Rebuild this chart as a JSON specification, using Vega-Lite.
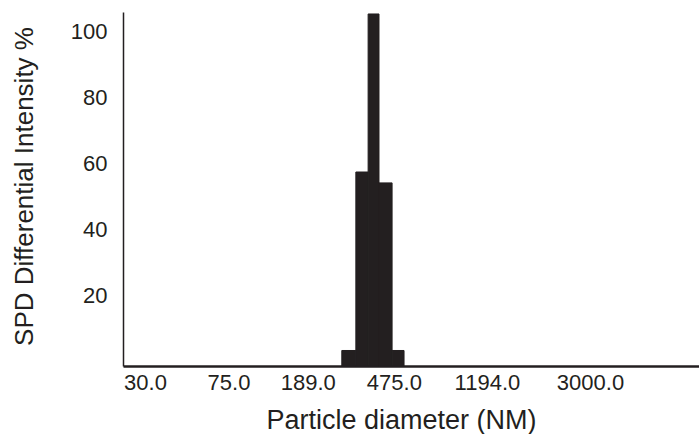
{
  "$schema": "https://vega.github.io/schema/vega-lite/v6.json",
  "width": 576,
  "height": 354,
  "autosize": {"type": "none"},
  "padding": {"left": 123, "top": 12, "right": 0, "bottom": 68},
  "background": "white",
  "config": {
    "view": {"stroke": null},
    "font": "Liberation Sans",
    "axis": {
      "grid": false,
      "ticks": false,
      "tickSize": 0,
      "domainColor": "#231f20",
      "labelColor": "#231f20",
      "titleColor": "#231f20",
      "labelFont": "Liberation Sans",
      "titleFont": "Liberation Sans",
      "titleFontWeight": "normal",
      "labelFontSize": 22,
      "titleFontSize": 27
    }
  },
  "data": {
    "values": [
      {"d0": 230, "d1": 266, "v": 4.7},
      {"d0": 266, "d1": 302, "v": 58.8},
      {"d0": 302, "d1": 338, "v": 106.7},
      {"d0": 338, "d1": 387, "v": 55.5},
      {"d0": 387, "d1": 438, "v": 4.7}
    ]
  },
  "mark": {"type": "rect", "color": "#231f20", "stroke": "#231f20", "strokeWidth": 1},
  "encoding": {
    "x": {
      "field": "d0",
      "type": "quantitative",
      "scale": {"type": "log", "domain": [23.9, 9270], "nice": false},
      "axis": {
        "title": "Particle diameter (NM)",
        "values": [30, 75, 189, 475, 1194, 3000],
        "format": ".1f",
        "domainWidth": 2.5,
        "labelFlush": false,
        "labelOverlap": false,
        "labelBaseline": "alphabetic",
        "labelPadding": 23,
        "labelAlign": "center",
        "labelOffset": {
          "condition": [
            {"test": "datum.value == 75", "value": -5},
            {"test": "datum.value == 189", "value": -15},
            {"test": "datum.value == 475", "value": -18},
            {"test": "datum.value == 1194", "value": -14}
          ],
          "value": 0
        },
        "titleBaseline": "alphabetic",
        "titleAlign": "center",
        "titleX": 278,
        "titleY": 62
      }
    },
    "x2": {"field": "d1"},
    "y": {
      "field": "v",
      "type": "quantitative",
      "scale": {"domain": [0, 107.3], "nice": false},
      "axis": {
        "title": "SPD Differential Intensity %",
        "values": [20, 40, 60, 80, 100],
        "domainWidth": 1.5,
        "labelPadding": 16,
        "labelOffset": -5,
        "labelBaseline": "middle",
        "labelAlign": "right",
        "titleAngle": -90,
        "titleFontSize": 26,
        "titleBaseline": "alphabetic",
        "titleAlign": "center",
        "titleX": -91,
        "titleY": 174
      }
    },
    "y2": {"datum": 0}
  }
}
